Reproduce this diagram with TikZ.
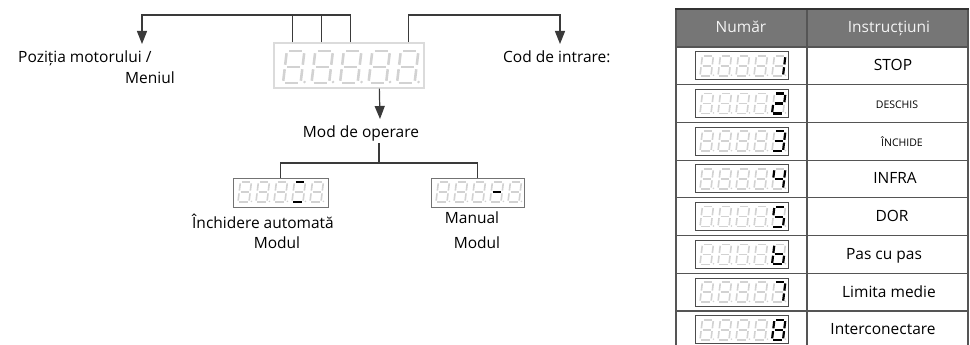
\documentclass[tikz,border=0pt]{standalone}
\usepackage{fontspec}
\setmainfont{Open Sans}
\usetikzlibrary{arrows.meta,calc}
\definecolor{segoffc}{HTML}{D2D2D2}
\definecolor{linec}{HTML}{3A3A3A}
\definecolor{headc}{HTML}{767676}
\definecolor{tabc}{HTML}{555555}
\definecolor{headtxt}{HTML}{F4F4F4}
\tikzset{
 segoff/.style={draw=segoffc},
 segon/.style={draw=black},
 conn/.style={draw=linec, line width=1.2pt},
 arr/.style={conn, -{Triangle[length=13pt,width=10pt]}},
 lbl/.style={font=\fontsize{15.5}{18}\selectfont, inner sep=0pt, text=black},
 smalllbl/.style={font=\fontsize{10.5}{12}\selectfont, inner sep=0pt, text=black},
 headlbl/.style={font=\fontsize{15.5}{18}\selectfont, inner sep=0pt, text=headtxt},
 mainbox/.style={draw=black!14, line width=1.3pt, minimum width=150pt, minimum height=45pt, inner sep=0pt},
 opbox/.style={draw=black!55, line width=1pt, minimum height=29pt, inner sep=0pt},
 tabbox/.style={draw=black!70, line width=1pt, minimum width=93pt, minimum height=28pt, inner sep=0pt},
 tabline/.style={draw=tabc, line width=1.2pt},
}
\newcommand\sgA[1]{\draw[#1] (0.07,1)--(0.48,1);}
\newcommand\sgB[1]{\draw[#1] (0.55,0.93)--(0.55,0.57);}
\newcommand\sgC[1]{\draw[#1] (0.55,0.43)--(0.55,0.07);}
\newcommand\sgD[1]{\draw[#1] (0.07,0)--(0.48,0);}
\newcommand\sgE[1]{\draw[#1] (0,0.43)--(0,0.07);}
\newcommand\sgF[1]{\draw[#1] (0,0.93)--(0,0.57);}
\newcommand\sgG[1]{\draw[#1] (0.07,0.5)--(0.48,0.5);}
\newcommand\sgN[1]{}
% x, y (bottom-left, px), height, active segments
\newcommand\segdig[4]{%
 \begin{scope}[shift={(#1,#2)},x={(#3pt,0pt)},y={(0pt,#3pt)},xslant=0.12,line width={0.08*#3pt},line cap=butt]
  \foreach \s in {A,B,C,D,E,F,G}{\csname sg\s\endcsname{segoff}}
  \fill[segoffc] (0.67,0.03) circle[radius=0.045];
  \foreach \s in {#4}{\csname sg\s\endcsname{segon,line width={0.11*#3pt}}}
 \end{scope}}
% x0, ybottom, h, step, active digit index, active list
\newcommand\digrow[6]{%
 \foreach \i in {1,...,5}{%
  \pgfmathsetmacro\dx{#1+(\i-1)*#4}%
  \ifnum\i=#5\relax \segdig{\dx}{#2}{#3}{#6}\else \segdig{\dx}{#2}{#3}{N}\fi}}
% row index, active list, text, style, text x
\newcommand\tabrow[5]{%
 \pgfmathsetmacro\rc{47+37.7*(#1-0.5)}%
 \node[tabbox] (d#1) at (741.5,\rc) {};
 \digrow{700}{\rc+10}{20}{18}{5}{#2}
 \node[#4, anchor=base] (t#1) at (#5,\rc+5) {#3};
 \draw[tabline] (676,\rc+18.85) -- (968,\rc+18.85);
}
\begin{document}
\begin{tikzpicture}[x=1pt,y=-1pt]
\useasboundingbox (0,0) rectangle (970,345);
\fill[white] (0,0) rectangle (970,345);
% main display
\node[mainbox] (main) at (349,65.5) {};
\digrow{283}{83}{32}{28.5}{0}{N}
% labels
\node[lbl, anchor=base west] (pos1) at (18,63) {Poziția motorului /};
\node[lbl, anchor=base west] (pos2) at (125,84) {Meniul};
\node[lbl, anchor=base west] (cod) at (503,63) {Cod de intrare:};
\node[lbl, anchor=base] (mode) at (361,137) {Mod de operare};
% connectors top
\coordinate (busL) at (142,15);
\coordinate (tipL) at (142,44);
\coordinate (busR) at (560,15);
\coordinate (tipR) at (560,44);
\draw[arr] ($(main.north west)+(77,0)$) |- (busL) -- (tipL);
\draw[conn] ($(main.north west)+(19,0)$) -- ($(main.north west)+(19,-28)$);
\draw[conn] ($(main.north west)+(48,0)$) -- ($(main.north west)+(48,-28)$);
\draw[arr] ($(main.north west)+(135,0)$) |- (busR) -- (tipR);
\coordinate (tipM) at (380,119);
\draw[arr] ($(main.south west)+(106,0)$) -- (tipM);
% operation modes
\node[opbox, minimum width=95pt] (opL) at (280.5,192.5) {};
\node[opbox, minimum width=93pt] (opR) at (477.5,192.5) {};
\digrow{238}{202}{20}{18}{4}{A,D}
\digrow{436}{202}{20}{18}{4}{G}
\coordinate (modeb) at (379,143);
\coordinate (junc) at (379,163);
\draw[conn] (modeb) -- (junc);
\draw[conn] (opL.north) |- (junc) -| (opR.north);
\node[lbl, anchor=base] (autoA) at (263,228) {Închidere automată};
\node[lbl, anchor=base] (autoB) at (277,248) {Modul};
\node[lbl, anchor=base] (manA) at (472,223) {Manual};
\node[lbl, anchor=base] (manB) at (477,248) {Modul};
% table
\fill[headc] (676,9) rectangle (968,47);
\node[headlbl, anchor=base] (h1) at (741,33) {Număr};
\node[headlbl, anchor=base] (h2) at (889,33) {Instrucțiuni};
\tabrow{1}{B,C}{STOP}{lbl}{893}
\tabrow{2}{A,B,G,E,D}{DESCHIS}{smalllbl}{897}
\tabrow{3}{A,B,G,C,D}{ÎNCHIDE}{smalllbl}{902}
\tabrow{4}{F,G,B,C}{INFRA}{lbl}{895}
\tabrow{5}{A,F,G,C,D}{DOR}{lbl}{892}
\tabrow{6}{F,E,D,C,G}{Pas cu pas}{lbl}{884}
\tabrow{7}{A,B,C}{Limita medie}{lbl}{889}
\tabrow{8}{A,B,C,D,E,F,G}{Interconectare}{lbl}{883}
\draw[tabline] (676,47) -- (968,47);
\draw[tabline] (676,9) -- (676,345);
\draw[tabline] (807,9) -- (807,345);
\draw[tabline] (968,9) -- (968,345);
\draw[draw=black!80, line width=2pt] (675.4,9) -- (968.6,9);
\end{tikzpicture}
\end{document}
